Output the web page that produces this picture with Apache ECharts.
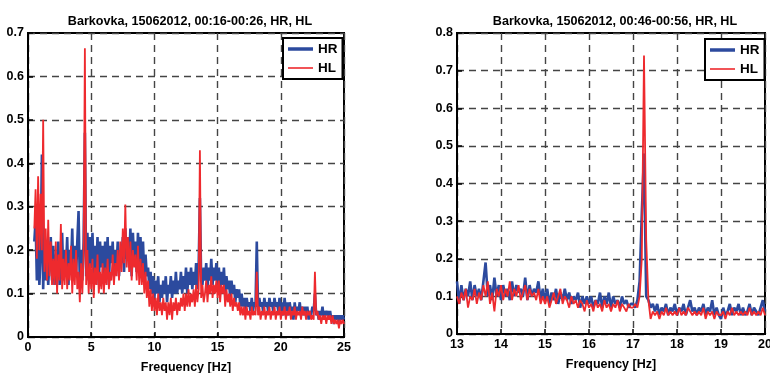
<!DOCTYPE html>
<html>
<head>
<meta charset="utf-8">
<script src="https://cdn.jsdelivr.net/npm/echarts@6/dist/echarts.min.js"></script>
<style>
html,body{margin:0;padding:0;background:#fff;}
#chart{width:770px;height:373px;}
</style>
</head>
<body>
<div id="chart"></div>
<script>
// ---- Data ----
const leftTitle = 'Barkovka, 15062012, 00:16-00:26, HR, HL';
const rightTitle = 'Barkovka, 15062012, 00:46-00:56, HR, HL';
const seriesNames = ['HR', 'HL'];
const xAxisName = 'Frequency [Hz]';

// left panel: frequency grid 0.5 .. 25 Hz, step 0.1 Hz
const leftFreqStart = 0.5;
const leftFreqStep = 0.1;
const leftHR = [
  0.22, 0.27, 0.13, 0.24, 0.12,
  0.19, 0.42, 0.11, 0.22, 0.13, 0.20, 0.12, 0.18, 0.23, 0.13,
  0.21, 0.12, 0.19, 0.14, 0.22, 0.12, 0.18, 0.24, 0.13, 0.20,
  0.15, 0.23, 0.12, 0.20, 0.16, 0.25, 0.13, 0.21, 0.14, 0.22,
  0.29, 0.12, 0.20, 0.13, 0.22, 0.47, 0.14, 0.24, 0.13, 0.23,
  0.16, 0.24, 0.14, 0.21, 0.15, 0.23, 0.12, 0.22, 0.16, 0.21,
  0.13, 0.22, 0.15, 0.23, 0.12, 0.21, 0.17, 0.22, 0.14, 0.20,
  0.16, 0.22, 0.14, 0.20, 0.17, 0.23, 0.15, 0.25, 0.18, 0.23,
  0.16, 0.25, 0.14, 0.24, 0.17, 0.22, 0.15, 0.24, 0.16, 0.23,
  0.14, 0.22, 0.13, 0.19, 0.14, 0.16, 0.11, 0.15, 0.10, 0.14,
  0.09, 0.13, 0.10, 0.14, 0.08, 0.12, 0.09, 0.13, 0.10, 0.14,
  0.08, 0.12, 0.10, 0.14, 0.09, 0.13, 0.10, 0.15, 0.10, 0.13,
  0.11, 0.15, 0.10, 0.14, 0.11, 0.16, 0.10, 0.15, 0.12, 0.16,
  0.11, 0.15, 0.12, 0.17, 0.11, 0.16, 0.32, 0.13, 0.12, 0.16,
  0.13, 0.17, 0.11, 0.16, 0.13, 0.18, 0.12, 0.16, 0.13, 0.17,
  0.12, 0.16, 0.11, 0.15, 0.12, 0.16, 0.10, 0.14, 0.11, 0.13,
  0.09, 0.13, 0.10, 0.12, 0.08, 0.11, 0.09, 0.11, 0.07, 0.10,
  0.07, 0.09, 0.06, 0.09, 0.07, 0.08, 0.06, 0.09, 0.06, 0.08,
  0.07, 0.22, 0.06, 0.09, 0.07, 0.08, 0.06, 0.09, 0.07, 0.08,
  0.06, 0.09, 0.07, 0.08, 0.06, 0.09, 0.07, 0.08, 0.06, 0.09,
  0.06, 0.08, 0.05, 0.09, 0.06, 0.08, 0.05, 0.08, 0.06, 0.07,
  0.04, 0.08, 0.05, 0.07, 0.06, 0.08, 0.05, 0.07, 0.05, 0.07,
  0.05, 0.07, 0.04, 0.06, 0.05, 0.07, 0.06, 0.10, 0.05, 0.06,
  0.04, 0.06, 0.05, 0.07, 0.04, 0.06, 0.05, 0.06, 0.04, 0.06,
  0.04, 0.05, 0.03, 0.05, 0.04, 0.05, 0.03, 0.05, 0.04, 0.05,
  0.04
];
const leftHL = [
  0.25, 0.34, 0.18, 0.37, 0.20,
  0.33, 0.20, 0.50, 0.15, 0.25, 0.13, 0.27, 0.14, 0.22, 0.12,
  0.18, 0.12, 0.22, 0.10, 0.19, 0.13, 0.26, 0.11, 0.18, 0.12,
  0.20, 0.11, 0.17, 0.13, 0.21, 0.10, 0.18, 0.12, 0.20, 0.11,
  0.15, 0.08, 0.17, 0.10, 0.19, 0.665, 0.12, 0.20, 0.10, 0.17,
  0.11, 0.18, 0.09, 0.16, 0.12, 0.19, 0.10, 0.15, 0.11, 0.17,
  0.10, 0.16, 0.12, 0.18, 0.11, 0.15, 0.13, 0.19, 0.12, 0.17,
  0.14, 0.20, 0.13, 0.22, 0.15, 0.25, 0.17, 0.305, 0.16, 0.23,
  0.15, 0.22, 0.13, 0.20, 0.16, 0.19, 0.13, 0.21, 0.12, 0.18,
  0.12, 0.17, 0.10, 0.15, 0.09, 0.13, 0.07, 0.11, 0.06, 0.10,
  0.06, 0.09, 0.05, 0.10, 0.06, 0.08, 0.05, 0.09, 0.06, 0.08,
  0.04, 0.08, 0.05, 0.09, 0.04, 0.08, 0.06, 0.09, 0.05, 0.08,
  0.06, 0.09, 0.07, 0.10, 0.06, 0.10, 0.07, 0.11, 0.07, 0.10,
  0.08, 0.11, 0.07, 0.12, 0.08, 0.11, 0.43, 0.09, 0.12, 0.08,
  0.10, 0.13, 0.08, 0.12, 0.10, 0.14, 0.09, 0.12, 0.10, 0.13,
  0.09, 0.13, 0.08, 0.12, 0.10, 0.12, 0.07, 0.11, 0.08, 0.10,
  0.07, 0.10, 0.06, 0.09, 0.07, 0.08, 0.06, 0.08, 0.05, 0.07,
  0.05, 0.07, 0.04, 0.07, 0.05, 0.06, 0.04, 0.07, 0.05, 0.06,
  0.05, 0.15, 0.05, 0.07, 0.04, 0.06, 0.05, 0.07, 0.04, 0.06,
  0.05, 0.07, 0.04, 0.06, 0.05, 0.07, 0.04, 0.06, 0.05, 0.07,
  0.04, 0.06, 0.05, 0.07, 0.04, 0.06, 0.05, 0.07, 0.04, 0.06,
  0.05, 0.07, 0.04, 0.06, 0.05, 0.06, 0.04, 0.07, 0.05, 0.06,
  0.04, 0.06, 0.05, 0.06, 0.04, 0.05, 0.04, 0.15, 0.05, 0.06,
  0.04, 0.05, 0.03, 0.05, 0.04, 0.05, 0.03, 0.05, 0.04, 0.05,
  0.03, 0.05, 0.03, 0.04, 0.03, 0.04, 0.02, 0.04, 0.03, 0.04,
  0.03
];

// right panel: frequency grid 13 .. 20 Hz, step 0.05 Hz
const rightFreqStart = 13;
const rightFreqStep = 0.05;
const rightHR = [
  0.14, 0.08, 0.13, 0.09, 0.12, 0.10, 0.14, 0.09, 0.13, 0.10,
  0.12, 0.09, 0.14, 0.19, 0.10, 0.13, 0.09, 0.15, 0.10, 0.13,
  0.09, 0.13, 0.10, 0.12, 0.09, 0.14, 0.10, 0.13, 0.11, 0.12,
  0.10, 0.15, 0.09, 0.13, 0.10, 0.12, 0.11, 0.14, 0.09, 0.12,
  0.09, 0.12, 0.08, 0.11, 0.09, 0.12, 0.08, 0.11, 0.09, 0.12,
  0.09, 0.11, 0.08, 0.10, 0.09, 0.11, 0.07, 0.10, 0.08, 0.10,
  0.08, 0.10, 0.07, 0.09, 0.08, 0.11, 0.07, 0.10, 0.08, 0.11,
  0.07, 0.10, 0.08, 0.09, 0.07, 0.10, 0.08, 0.09, 0.07, 0.08,
  0.08, 0.07, 0.09, 0.14, 0.32, 0.48, 0.10, 0.09, 0.07, 0.08,
  0.06, 0.08, 0.05, 0.07, 0.06, 0.08, 0.05, 0.07, 0.06, 0.08,
  0.05, 0.07, 0.06, 0.08, 0.05, 0.07, 0.09, 0.06, 0.07, 0.05,
  0.07, 0.06, 0.08, 0.05, 0.07, 0.06, 0.09, 0.05, 0.07, 0.05,
  0.04, 0.07, 0.05, 0.06, 0.08, 0.05, 0.07, 0.06, 0.08, 0.05,
  0.07, 0.05, 0.06, 0.08, 0.05, 0.07, 0.06, 0.05, 0.07, 0.09,
  0.06
];
const rightHL = [
  0.10, 0.08, 0.11, 0.09, 0.12, 0.07, 0.10, 0.09, 0.12, 0.08,
  0.11, 0.09, 0.13, 0.10, 0.14, 0.08, 0.11, 0.06, 0.12, 0.10,
  0.13, 0.09, 0.12, 0.10, 0.14, 0.09, 0.12, 0.10, 0.13, 0.09,
  0.11, 0.13, 0.09, 0.12, 0.10, 0.11, 0.09, 0.12, 0.08, 0.10,
  0.08, 0.10, 0.07, 0.09, 0.11, 0.08, 0.10, 0.12, 0.08, 0.10,
  0.09, 0.07, 0.10, 0.08, 0.09, 0.07, 0.09, 0.08, 0.06, 0.09,
  0.07, 0.08, 0.06, 0.09, 0.07, 0.08, 0.06, 0.09, 0.07, 0.08,
  0.06, 0.08, 0.07, 0.09, 0.06, 0.08, 0.07, 0.06, 0.08, 0.07,
  0.07, 0.08, 0.07, 0.10, 0.20, 0.74, 0.25, 0.09, 0.04, 0.06,
  0.05, 0.06, 0.04, 0.06, 0.05, 0.07, 0.05, 0.06, 0.05, 0.06,
  0.05, 0.07, 0.05, 0.06, 0.05, 0.07, 0.06, 0.05, 0.06, 0.05,
  0.06, 0.05, 0.07, 0.04, 0.06, 0.05, 0.06, 0.04, 0.06, 0.05,
  0.05, 0.06, 0.04, 0.06, 0.05, 0.07, 0.05, 0.06, 0.05, 0.06,
  0.05, 0.06, 0.05, 0.07, 0.05, 0.06, 0.05, 0.06, 0.05, 0.07,
  0.05
];

// ---- Build ----
function pairs(start, step, vals) {
  return vals.map((v, i) => [+(start + i * step).toFixed(3), v]);
}
const BLUE = '#2c4a9e';
const RED = '#ee2a2e';
const FONT = 'Liberation Sans, Arial, sans-serif';
const splitDash = { show: true, lineStyle: { color: '#444', width: 1.4, type: [7, 5] } };

function xAx(gi, min, max, interval) {
  return {
    type: 'value', gridIndex: gi, min: min, max: max, interval: interval,
    name: xAxisName, nameLocation: 'middle', nameGap: 24,
    nameTextStyle: { color: '#000', fontWeight: 'bold', fontSize: 12.5, fontFamily: FONT },
    axisLine: { show: true, lineStyle: { color: '#000', width: 2 } },
    axisTick: { show: true, inside: true, length: 5, lineStyle: { color: '#000', width: 1.5 } },
    axisLabel: { color: '#000', fontWeight: 'bold', fontSize: 12.5, fontFamily: FONT, margin: 4 },
    splitLine: splitDash
  };
}
function yAx(gi, max) {
  return {
    type: 'value', gridIndex: gi, min: 0, max: max, interval: 0.1,
    axisLine: { show: true, lineStyle: { color: '#000', width: 2 } },
    axisTick: { show: true, inside: true, length: 5, lineStyle: { color: '#000', width: 1.5 } },
    axisLabel: { color: '#000', fontWeight: 'bold', fontSize: 12.5, fontFamily: FONT, margin: 4,
      formatter: v => (Math.round(v * 10) / 10).toString() },
    splitLine: splitDash
  };
}
function legendAt(left, top) {
  return {
    orient: 'vertical', left: left, top: top,
    data: [
      { name: seriesNames[0], icon: 'path://M0 0H25V3.5H0Z' },
      { name: seriesNames[1], icon: 'path://M0 0H25V1.6H0Z' }
    ],
    symbolKeepAspect: true,
    itemWidth: 25, itemHeight: 14, itemGap: 5, itemTextGap: 3,
    padding: [4, 5, 4, 5],
    borderColor: '#000', borderWidth: 2, backgroundColor: '#fff',
    textStyle: { color: '#000', fontWeight: 'bold', fontSize: 13.5, fontFamily: FONT },
    selectedMode: false
  };
}
function lineSeries(name, color, width, xi, data) {
  return {
    type: 'line', name: name, xAxisIndex: xi, yAxisIndex: xi,
    data: data, showSymbol: false, symbol: 'none',
    lineStyle: { color: color, width: width }, itemStyle: { color: color },
    emphasis: { disabled: true }, animation: false
  };
}

const chart = echarts.init(document.getElementById('chart'), null, { renderer: 'canvas' });
chart.setOption({
  backgroundColor: '#fff',
  animation: false,
  title: [
    { text: leftTitle, left: 185, top: 10, textAlign: 'center',
      textStyle: { color: '#000', fontWeight: 'bold', fontSize: 12.6, fontFamily: FONT } },
    { text: rightTitle, left: 610, top: 10, textAlign: 'center',
      textStyle: { color: '#000', fontWeight: 'bold', fontSize: 12.6, fontFamily: FONT } }
  ],
  grid: [
    { left: 28, top: 33, width: 316, height: 304, show: true, borderColor: '#000', borderWidth: 2,
      backgroundColor: '#fff', containLabel: false, outerBoundsMode: 'none' },
    { left: 457, top: 33, width: 308, height: 301, show: true, borderColor: '#000', borderWidth: 2,
      backgroundColor: '#fff', containLabel: false, outerBoundsMode: 'none' }
  ],
  xAxis: [xAx(0, 0, 25, 5), xAx(1, 13, 20, 1)],
  yAxis: [yAx(0, 0.7), yAx(1, 0.8)],
  legend: [legendAt(283, 38), legendAt(705, 39)],
  series: [
    lineSeries(seriesNames[0], BLUE, 2.6, 0, pairs(leftFreqStart, leftFreqStep, leftHR)),
    lineSeries(seriesNames[1], RED, 1.8, 0, pairs(leftFreqStart, leftFreqStep, leftHL)),
    lineSeries(seriesNames[0], BLUE, 2.6, 1, pairs(rightFreqStart, rightFreqStep, rightHR)),
    lineSeries(seriesNames[1], RED, 1.8, 1, pairs(rightFreqStart, rightFreqStep, rightHL))
  ]
});
</script>
</body>
</html>
